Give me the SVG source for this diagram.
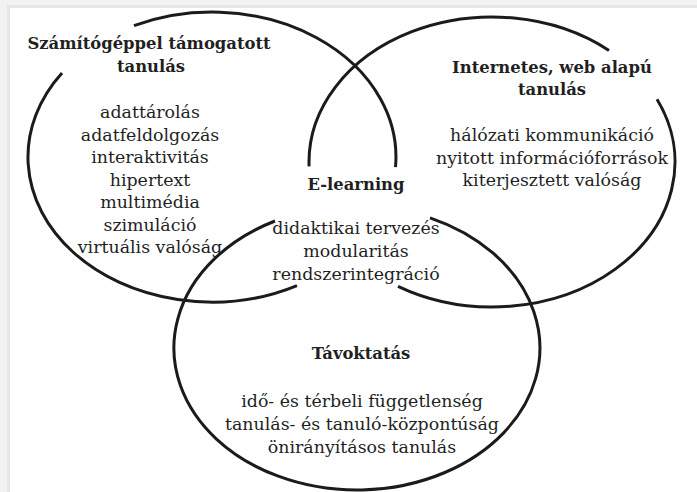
<svg xmlns="http://www.w3.org/2000/svg" width="697" height="492" viewBox="0 0 697 492">
  <style>
    .ring { fill: none; stroke: #1c1a1a; stroke-width: 3; stroke-linecap: butt; }
    .t { font-family: "DejaVu Serif", "Liberation Serif", serif; font-size: 17.4px; fill: #231f1f; text-anchor: middle; }
    .b { font-family: "DejaVu Serif", "Liberation Serif", serif; font-size: 16.4px; font-weight: bold; fill: #231f1f; text-anchor: middle; }
  </style>
  <rect x="0" y="0" width="697" height="492" fill="#f2f2f2"/>
  <rect x="7" y="5" width="690" height="487" fill="#e6e6e6"/>
  <rect x="10" y="8" width="687" height="484" fill="#ffffff"/>

  <g id="cal">
    <path class="ring" d="M134,25.7 A184,145 0 0,1 395.5,167.2"/>
    <path class="ring" d="M297,285.6 A184,145 0 0,1 62,73"/>
    <text class="b" x="149" y="49">Számítógéppel támogatott</text>
    <text class="b" x="151" y="72">tanulás</text>
    <text class="t" x="150" y="118">adattárolás</text>
    <text class="t" x="150" y="140.5">adatfeldolgozás</text>
    <text class="t" x="150" y="163">interaktivitás</text>
    <text class="t" x="150" y="185.5">hipertext</text>
    <text class="t" x="150" y="208">multimédia</text>
    <text class="t" x="150" y="230.5">szimuláció</text>
    <text class="t" x="150" y="253">virtuális valóság</text>
  </g>

  <g id="web">
    <path class="ring" d="M309.1,166.4 A183,145 0 0,1 609,50.5"/>
    <path class="ring" d="M657,99.3 A183,145 0 0,1 398,286.4"/>
    <text class="b" x="552" y="73">Internetes, web alapú</text>
    <text class="b" x="552" y="95">tanulás</text>
    <text class="t" x="552" y="141">hálózati kommunikáció</text>
    <text class="t" x="552" y="163.5">nyitott információforrások</text>
    <text class="t" x="552" y="186">kiterjesztett valóság</text>
  </g>

  <g id="elearning">
    <text class="b" x="356" y="190">E-learning</text>
    <text class="t" x="356" y="234">didaktikai tervezés</text>
    <text class="t" x="356" y="257">modularitás</text>
    <text class="t" x="356" y="280">rendszerintegráció</text>
  </g>

  <g id="tavoktatas">
    <path class="ring" d="M430,217.8 A183,142 0 1,1 275,221"/>
    <text class="b" x="361" y="359">Távoktatás</text>
    <text class="t" x="362" y="407">idő- és térbeli függetlenség</text>
    <text class="t" x="362" y="430">tanulás- és tanuló-központúság</text>
    <text class="t" x="362" y="453">önirányításos tanulás</text>
  </g>

  <g id="connectors"></g>
</svg>
